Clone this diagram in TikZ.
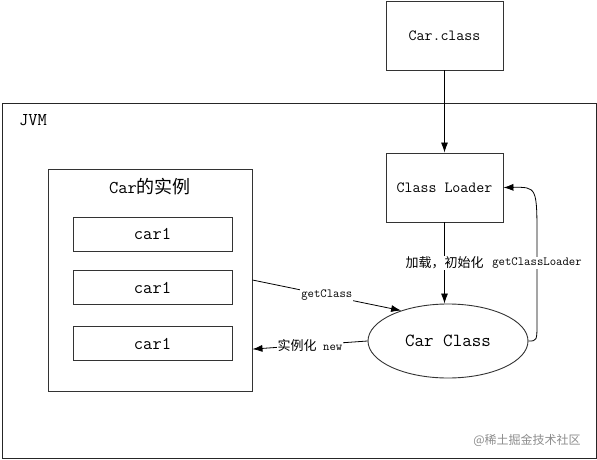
\documentclass[tikz,border=0pt]{standalone}
\usepackage{fontspec}
\newfontfamily\cjk{Noto Sans CJK SC}
\usetikzlibrary{arrows.meta,positioning,shapes.geometric}

\begin{document}
\begin{tikzpicture}[
  x=1pt, y=-1pt,
  box/.style={draw=black!80, line width=0.9pt, minimum width=117pt, minimum height=69pt, inner sep=0pt, font=\fontsize{15.5}{18}\selectfont\ttfamily},
  item/.style={draw=black!80, line width=0.9pt, minimum width=159pt, minimum height=34pt, inner sep=0pt, font=\fontsize{18}{20}\selectfont\ttfamily},
  lbl/.style={fill=white, inner sep=1pt, font=\fontsize{12.4}{14}\selectfont\ttfamily},
  arrow/.style={-{Latex[length=10pt,width=7pt]}, line width=0.8pt}
]
\useasboundingbox (0,0) rectangle (597,460);
\node[draw=black!85, line width=0.9pt, minimum width=594pt, minimum height=355pt, inner sep=0pt] (jvm) at (299,280.5) {};
\node[font=\fontsize{18}{20}\selectfont\ttfamily] (jvmlbl) at (33,120) {JVM};
\node[box] (file) at (444.5,35.5) {Car.class};
\node[box] (loader) at (444.5,187.5) {Class Loader};
\node[draw=black!80, line width=0.9pt, ellipse, minimum width=160pt, minimum height=74pt, inner sep=0pt, font=\fontsize{18.5}{20}\selectfont\ttfamily] (cls) at (448,341) {Car Class};
\node[draw=black!80, line width=0.9pt, minimum width=204pt, minimum height=222pt, inner sep=0pt] (inst) at (150,280) {};
\node[font=\fontsize{18}{20}\selectfont\ttfamily] (title) at (150,187) {Car{\cjk 的实例}};
\node[item] (car1) at (152.5,234) {car1};
\node[item] (car2) at (152.5,287.5) {car1};
\node[item] (car3) at (152.5,343.5) {car1};

\draw[arrow] (file) -- (loader);
\draw[arrow] (loader) -- node[lbl, font=\fontsize{13}{14}\selectfont\cjk] {加载，初始化} (cls.north -| loader);
\draw[arrow] (inst.east) -- node[lbl, pos=0.5] {getClass} (cls.147);
\draw[arrow] (cls.west) -- node[lbl, pos=0.5] {{\cjk\fontsize{13}{14}\selectfont 实例化} new} (inst.-34.5);
\draw[arrow] (cls.east) .. controls (537,341) .. (537,322) -- node[lbl, pos=0.72] {getClassLoader} (537,240) .. controls (537,187) .. (loader.east);

\node[text=black!45, font=\fontsize{12}{14}\selectfont\cjk] (mark) at (527,440) {@稀土掘金技术社区};
\end{tikzpicture}
\end{document}
